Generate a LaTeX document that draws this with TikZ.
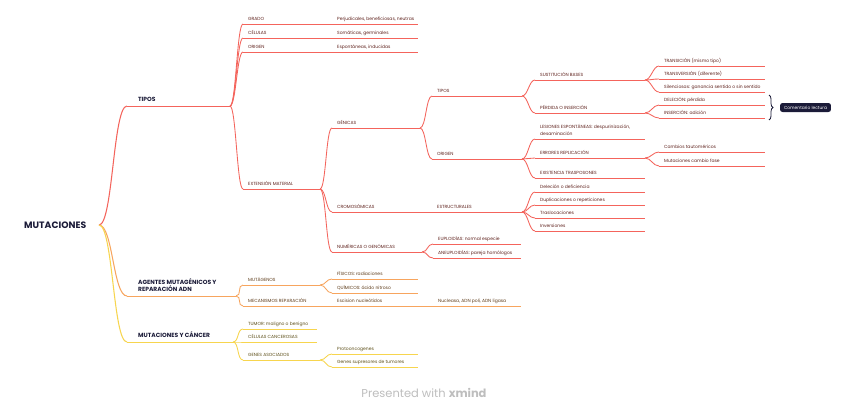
\documentclass[tikz,border=0pt]{standalone}
\usepackage{fontspec}
\setmainfont{Poppins}
\usetikzlibrary{decorations.pathreplacing}
\definecolor{lnR}{HTML}{F4645C}
\definecolor{lnO}{HTML}{F7A55E}
\definecolor{lnY}{HTML}{F7D54E}
\definecolor{txR}{HTML}{5E211C}
\definecolor{txO}{HTML}{5E3C1A}
\definecolor{txY}{HTML}{5C4E18}
\definecolor{navy}{HTML}{1B1B38}
\definecolor{brandgray}{HTML}{BEBEBE}
\tikzset{
  lineR/.style={draw=lnR, line width=0.85bp},
  lineO/.style={draw=lnO, line width=0.85bp},
  lineY/.style={draw=lnY, line width=0.85bp},
  lbl/.style={anchor=base west, inner sep=0pt, font=\fontsize{4.5}{7}\selectfont, align=left},
  lblA/.style={anchor=base west, inner sep=0pt, font=\fontsize{6}{7}\selectfont\bfseries, align=left, text=navy},
  notebox/.style={fill=navy, text=white, rounded corners=2.5bp, inner xsep=4bp, inner ysep=0pt,
    minimum height=9bp, font=\fontsize{4.4}{5}\selectfont},
}
% #1 baseline offset (last line), #2 name, #3 x start, #4 x end, #5 y, #6 branch, #7 text
\newcommand\topic[7][4]{%
  \coordinate (#2-s) at (#3,#5);
  \coordinate (#2-e) at (#4,#5);
  \draw[line#6] (#2-s) -- (#2-e);
  \node[lbl, text=tx#6] (#2) at (#3+5,#5-#1) {#7};
}
\newcommand\topicA[7][5]{%
  \coordinate (#2-s) at (#3,#5);
  \coordinate (#2-e) at (#4,#5);
  \draw[line#6, line width=0.95bp] (#2-s) -- (#2-e);
  \node[lblA] (#2) at (#3+11,#5-#1) {#7};
}
\newcommand\conn[3]{\draw[line#3] (#1-e) .. controls +(6,0) and +(-6,0) .. (#2-s);}
\newcommand\connA[2]{\draw[line#2, line width=1.05bp] (root-e) .. controls +(14,0) and +(-14,0) .. (#1-s);}

\begin{document}
\begin{tikzpicture}[x=1bp, y=-1bp]
\useasboundingbox[fill=white] (0,0) rectangle (848,415);

% root
\node[anchor=base west, inner sep=0pt, font=\fontsize{9.3}{10}\selectfont\bfseries, text=navy] (root) at (24,228) {MUTACIONES};
\coordinate (root-e) at (99,225);

% level 1
\topicA{tipos}{127}{230}{106}{R}{TIPOS}
\topicA{agentes}{127}{236}{296}{O}{AGENTES MUTAGÉNICOS Y\\REPARACIÓN ADN}
\topicA{cancer}{127}{233}{342}{Y}{MUTACIONES Y CÁNCER}
\connA{tipos}{R}
\connA{agentes}{O}
\connA{cancer}{Y}

% TIPOS children
\topic{grado}{243}{320}{24}{R}{GRADO}
\topic{perj}{332}{418}{24}{R}{Perjudicales, beneficiosas, neutras}
\topic{celulas}{243}{320}{38}{R}{CÉLULAS}
\topic{soma}{332}{418}{38}{R}{Somáticas, germinales}
\topic{origen}{243}{320}{52}{R}{ORIGEN}
\topic{espon}{332}{418}{52}{R}{Espontáneas, inducidas}
\topic{ext}{243}{320}{189}{R}{EXTENSIÓN MATERIAL}
\conn{tipos}{grado}{R}
\conn{tipos}{celulas}{R}
\conn{tipos}{origen}{R}
\conn{tipos}{ext}{R}
\conn{grado}{perj}{R}
\conn{celulas}{soma}{R}
\conn{origen}{espon}{R}

% EXTENSION MATERIAL children
\topic{genicas}{332}{420}{128}{R}{GÉNICAS}
\topic{cromo}{332}{420}{212}{R}{CROMOSÓMICAS}
\topic{numer}{332}{422}{252}{R}{NUMÉRICAS O GENÓMICAS}
\conn{ext}{genicas}{R}
\conn{ext}{cromo}{R}
\conn{ext}{numer}{R}

\topic{tiposg}{432}{522}{96}{R}{TIPOS}
\topic{origeng}{432}{522}{159}{R}{ORIGEN}
\conn{genicas}{tiposg}{R}
\conn{genicas}{origeng}{R}
\topic{estruct}{432}{522}{212}{R}{ESTRUCTURALES}
\conn{cromo}{estruct}{R}
\topic{eup}{433}{521}{244}{R}{EUPLOIDÍAS: normal especie}
\topic{aneup}{433}{521}{258}{R}{ANEUPLOIDÍAS: pareja homólogos}
\conn{numer}{eup}{R}
\conn{numer}{aneup}{R}

% TIPOS (genicas) children
\topic{sust}{535}{645}{80}{R}{SUSTITUCIÓN BASES}
\topic{perd}{535}{645}{113}{R}{PÉRDIDA O INSERCIÓN}
\conn{tiposg}{sust}{R}
\conn{tiposg}{perd}{R}
\topic{transi}{659}{765}{66}{R}{TRANSICIÓN (mismo tipo)}
\topic{transv}{659}{765}{79}{R}{TRANSVERSIÓN (diferente)}
\topic{silen}{659}{765}{92}{R}{Silenciosas: ganancia sentido o sin sentido}
\conn{sust}{transi}{R}
\conn{sust}{transv}{R}
\conn{sust}{silen}{R}
\topic{delec}{659}{765}{105}{R}{DELECIÓN: pérdida}
\topic{inser}{659}{765}{118}{R}{INSERCIÓN: adición}
\conn{perd}{delec}{R}
\conn{perd}{inser}{R}

% ORIGEN (genicas) children
\topic{lesion}{535}{645}{139}{R}{LESIONES ESPONTÁNEAS: despurinización,\\desaminación}
\topic{errores}{535}{645}{158}{R}{ERRORES REPLICACIÓN}
\topic{exist}{535}{645}{178}{R}{EXISTENCIA TRASPOSONES}
\conn{origeng}{lesion}{R}
\conn{origeng}{errores}{R}
\conn{origeng}{exist}{R}
\topic{cambios}{659}{765}{152}{R}{Cambios tautoméricos}
\topic{mutfase}{659}{765}{166}{R}{Mutaciones cambio fase}
\conn{errores}{cambios}{R}
\conn{errores}{mutfase}{R}

% ESTRUCTURALES children
\topic{delcr}{535}{645}{192}{R}{Deleción o deficiencia}
\topic{dupl}{535}{645}{205}{R}{Duplicaciones o repeticiones}
\topic{trasl}{535}{645}{218}{R}{Traslocaciones}
\topic{inver}{535}{645}{231}{R}{Inversiones}
\conn{estruct}{delcr}{R}
\conn{estruct}{dupl}{R}
\conn{estruct}{trasl}{R}
\conn{estruct}{inver}{R}

% brace + note
\coordinate (brtop) at (769,95);
\coordinate (brbot) at (769,120);
\draw[navy, line width=0.8bp, decorate, decoration={brace, amplitude=4bp}] (brtop) -- (brbot);
\node[notebox] (note) at (805.5,107.5) {Comentario lectura};

% AGENTES children
\topic{mutag}{243}{320}{285}{O}{MUTÁGENOS}
\topic{mecan}{243}{320}{306}{O}{MECANISMOS REPARACIÓN}
\conn{agentes}{mutag}{O}
\conn{agentes}{mecan}{O}
\topic{fisic}{332}{418}{279}{O}{FÍSICOS: radiaciones}
\topic{quimi}{332}{418}{293}{O}{QUÍMICOS: ácido nitroso}
\conn{mutag}{fisic}{O}
\conn{mutag}{quimi}{O}
\topic{escis}{332}{420}{306}{O}{Escision nucleótidos}
\conn{mecan}{escis}{O}
\topic{nucle}{433}{521}{306}{O}{Nucleasa, ADN poli, ADN ligasa}
\conn{escis}{nucle}{O}

% CANCER children
\topic{tumor}{243}{317}{329}{Y}{TUMOR: maligno o benigno}
\topic{celcan}{243}{317}{342}{Y}{CÉLULAS CANCEROSAS}
\topic{genes}{243}{320}{360}{Y}{GENES ASOCIADOS}
\conn{cancer}{tumor}{Y}
\conn{cancer}{celcan}{Y}
\conn{cancer}{genes}{Y}
\topic{proto}{332}{418}{354}{Y}{Protooncogenes}
\topic{supres}{332}{418}{367}{Y}{Genes supresores de tumores}
\conn{genes}{proto}{Y}
\conn{genes}{supres}{Y}

% brand
\node[text=brandgray, font=\fontsize{11.5}{12}\selectfont] (brand) at (424,393) {Presented with \textbf{xmind}};
\end{tikzpicture}
\end{document}
